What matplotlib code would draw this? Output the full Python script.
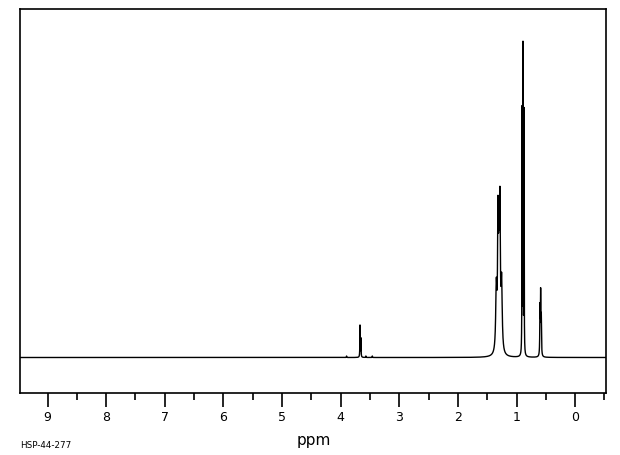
import numpy as np
import matplotlib
matplotlib.use("Agg")
import matplotlib.pyplot as plt
from matplotlib.ticker import MultipleLocator

peak_ppm    = [3.90, 3.67, 3.655, 3.57, 3.46, 1.345, 1.317, 1.30, 1.283, 1.255, 0.906, 0.89, 0.872, 0.60, 0.589, 0.578]
peak_height = [1.5,  33.0, 20.0,  1.5,  1.5,  80.0, 162.0, 150.0, 171.0, 85.0, 252.0, 317.0, 252.0, 55.0, 70.0, 45.0]
peak_width  = [0.003, 0.003, 0.003, 0.003, 0.003, 0.012, 0.008, 0.008, 0.008, 0.012, 0.0025, 0.0025, 0.0025, 0.004, 0.004, 0.004]

tick_values = [9, 8, 7, 6, 5, 4, 3, 2, 1, 0]
x_label = "ppm"
sample_id = "HSP-44-277"

pos = np.array(peak_ppm)
wid = np.array(peak_width)
tgt = np.array(peak_height)


def lor(xv, p, w):
    return w**2 / ((xv - p)**2 + w**2)


# amplitudes so that the summed curve reaches the observed heights at each peak
M = lor(pos[:, None], pos[None, :], wid[None, :])
amp = np.clip(np.linalg.solve(M, tgt), 0, None)

x = np.linspace(9.47, -0.53, 12000)
y = np.zeros_like(x)
for p, a, w in zip(pos, amp, wid):
    y += a * lor(x, p, w)

fig = plt.figure(figsize=(6.2, 4.55), dpi=100)
ax = fig.add_axes([20/620, (455-393)/455, 586/620, 384/455])
ax.plot(x, y, color="black", lw=1.0)
ax.set_xlim(9.47, -0.526)
ax.set_ylim(-35.5, 348.5)
ax.set_yticks([])
ax.set_xticks(tick_values)
ax.set_xticklabels([str(t) for t in tick_values])
ax.xaxis.set_minor_locator(MultipleLocator(0.5))
ax.tick_params(axis="x", which="major", length=10, width=1.2, direction="out", pad=3, labelsize=9)
ax.tick_params(axis="x", which="minor", length=5, width=1.2, direction="out")
for s in ax.spines.values():
    s.set_linewidth(1.2)
fig.text(314/620, 1 - 440/455, x_label, ha="center", va="center", fontsize=11)
fig.text(20/620, 1 - 445/455, sample_id, ha="left", va="center", fontsize=6.3)
fig.savefig("out.png", dpi=100)
